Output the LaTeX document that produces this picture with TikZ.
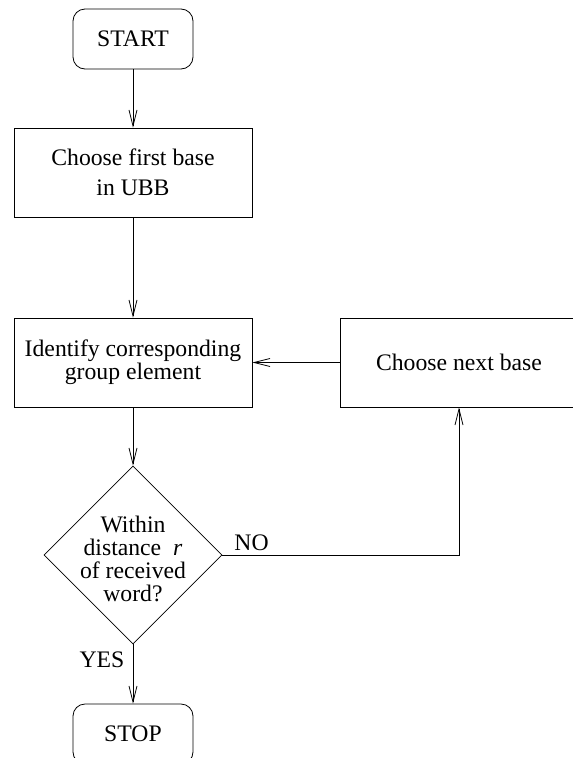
\documentclass[tikz,border=0pt]{standalone}
\usepackage{fontspec}
\setmainfont{Liberation Serif}
\usetikzlibrary{positioning,shapes.geometric,arrows.meta}

\tikzset{
	every node/.style={font=\fontsize{23.7}{23}\selectfont},
	terminal/.style={draw,rounded corners=12pt,minimum width=120pt,minimum height=60pt,inner sep=0pt},
	process/.style={draw,minimum width=238pt,minimum height=89pt,inner sep=0pt,align=center},
	decision/.style={draw,diamond,minimum width=178pt,minimum height=178pt,inner sep=0pt},
	flow/.style={-{Straight Barb[length=16pt,width=8pt]}}
}

\begin{document}
\begin{tikzpicture}[x=1pt,y=-1pt,line width=0.8pt]
	\useasboundingbox (0,0) rectangle (573,758);
	% boxes
	\node[terminal] (start) at (133,39) {START};
	\node[process] (first) at (133,172.5) {Choose first base\\[7pt]in UBB};
	\node[process] (identify) at (133,362.5) {Identify corresponding\\group element};
	\node[process] (next) at (459,362.5) {Choose next base};
	\node[decision] (check) at (133,555)
		[label={[align=center,yshift=-4pt]center:Within\\distance\enspace\textit{r}\\of received\\word?}] {};
	\node[terminal] (stop) at (133,734) {STOP};
	
	% answers
	\node[anchor=base west,inner sep=0pt] (no) at (234,550) {NO};
	\node[anchor=base,inner sep=0pt] (yes) at (102,667) {YES};
	
	% connectors
	\draw[flow] (start) -- (first);
	\draw[flow] (first) -- (identify);
	\draw[flow] (identify) -- (check);
	\draw[flow] (check) -- (stop);
	\draw[flow] (check.east) -| (next);
	\draw[flow] (next) -- (identify);
\end{tikzpicture}
\end{document}
